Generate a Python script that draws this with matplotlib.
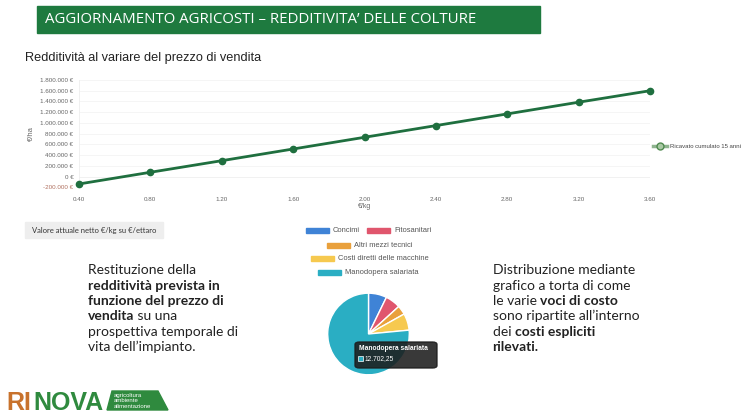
import matplotlib.pyplot as plt
from matplotlib.patches import Rectangle, FancyBboxPatch, Polygon
from matplotlib.lines import Line2D

# line chart data
prezzi = [0.40, 0.80, 1.20, 1.60, 2.00, 2.40, 2.80, 3.20, 3.60]
ricavato = [-138000, 80000, 296000, 514000, 732000, 950000, 1168000, 1386000, 1600000]
y_ticks = [-200000, 0, 200000, 400000, 600000, 800000, 1000000, 1200000, 1400000, 1600000, 1800000]

# pie data
voci = ["Concimi", "Fitosanitari", "Altri mezzi tecnici", "Costi diretti delle macchine", "Manodopera salariata"]
costi = [1200.0, 1000.0, 600.0, 1100.0, 12702.25]
colori = ["#3f83d6", "#e0566d", "#e9a03b", "#f6c94f", "#2aaec3"]

W, H = 756, 420
green = "#1f6f3f"


def fx(x):
    return x / W


def fy(y):
    return 1 - y / H


def it_num(v):
    return f"{int(v):,}".replace(",", ".") + " €"


fig = plt.figure(figsize=(7.56, 4.2), dpi=100)

# title bar
fig.patches.append(Rectangle((fx(37), fy(33)), fx(540) - fx(37), fy(6) - fy(33),
                             transform=fig.transFigure, color="#1e7a3f"))
fig.text(fx(45), fy(19.5), "AGGIORNAMENTO AGRICOSTI – REDDITIVITA’ DELLE COLTURE",
         color="white", fontsize=10.8, family="Open Sans", va="center")

fig.text(fx(25), fy(58), "Redditività al variare del prezzo di vendita",
         fontsize=9.2, family="Liberation Sans", va="center", color="#222222")

# line chart
ax = fig.add_axes([fx(79), fy(187.3), fx(650) - fx(79), fy(80) - fy(187.3)])
ax.plot(prezzi, ricavato, color=green, lw=2, marker="o", ms=4.5, zorder=3,
        label="Ricavato cumulato 15 anni", clip_on=False)
ax.set_xlim(0.4, 3.6)
ax.set_ylim(-200000, 1800000)
ax.set_yticks(y_ticks)
ax.set_yticklabels([it_num(v) for v in y_ticks])
ax.set_xticks(prezzi)
ax.set_xticklabels([f"{p:.2f}" for p in prezzi])
ax.tick_params(length=0, labelsize=4.5, labelcolor="#666666", pad=4)
ax.tick_params(axis="x", pad=7)
for lab in ax.get_yticklabels() + ax.get_xticklabels():
    lab.set_family("Liberation Sans")
ax.get_yticklabels()[0].set_color("#b0705f")
ax.grid(axis="y", color="#f4f4f4", lw=0.6)
ax.axhline(0, color="#e6e6e6", lw=0.7, zorder=1)
for s in ["top", "right", "bottom"]:
    ax.spines[s].set_visible(False)
ax.spines["left"].set_color("#eeeeee")
ax.spines["left"].set_linewidth(0.6)
ax.axhline(-200000, color="#eeeeee", lw=0.7, zorder=1)
ax.set_xlabel("€/kg", fontsize=5, color="#666666", family="Liberation Sans", labelpad=1)
ax.set_ylabel("€/ha", fontsize=5.5, color="#666666", family="Liberation Sans", labelpad=4)

handle = Line2D([], [], color="#8fb48f", lw=2.5, marker="o", ms=5,
                markerfacecolor="#a9c9a4", markeredgecolor="#4f8a4f")
leg = fig.legend([handle], ["Ricavato cumulato 15 anni"], loc="center left",
                 bbox_to_anchor=(fx(648), fy(146)), frameon=False,
                 prop={"family": "Liberation Sans", "size": 4.3},
                 handlelength=2.2, handletextpad=0.5)
for t in leg.get_texts():
    t.set_color("#444444")

# box label
fig.patches.append(Rectangle((fx(25), fy(238)), fx(163) - fx(25), fy(222) - fy(238),
                             transform=fig.transFigure, color="#eeeeee"))
fig.text(fx(31.5), fy(230), "Valore attuale netto €/kg su €/ettaro",
         fontsize=5.5, family="Lato", va="center", color="#333333")

# pie chart
cx, cy, r = 368.5, 334, 51
pax = fig.add_axes([fx(cx - r), fy(cy + r), 2 * r / W, 2 * r / H])
pax.pie(costi, colors=colori, startangle=90, counterclock=False,
        wedgeprops={"edgecolor": "white", "linewidth": 1})
pax.set_aspect("equal")

# pie legend (rows as in the reference)
rows = [[0, 1], [2], [3], [4]]
row_y = [230.7, 245, 258.7, 272.7]
row_x = [[305.7, 367], [326.7], [310.7], [318]]
for row, yy, xs in zip(rows, row_y, row_x):
    for i, x0 in zip(row, xs):
        fig.patches.append(Rectangle((fx(x0), fy(yy + 2.5)), 23 / W, 5 / H,
                                     transform=fig.transFigure, color=colori[i]))
        fig.text(fx(x0 + 27), fy(yy), voci[i], fontsize=5.4, family="Liberation Sans",
                 va="center", color="#555555")

# tooltip
fig.patches.append(FancyBboxPatch((fx(355), fy(368)), fx(437) - fx(355), fy(342) - fy(368),
                                  boxstyle="round,pad=0,rounding_size=0.006",
                                  transform=fig.transFigure, color="#1d1d1d", alpha=0.88))
fig.text(fx(359), fy(348.5), voci[4], fontsize=4.8, family="Liberation Sans",
         weight="bold", color="white", va="center")
fig.patches.append(Rectangle((fx(358), fy(361)), 5 / W, 5 / H, transform=fig.transFigure,
                             facecolor=colori[4], edgecolor="white", lw=0.5))
fig.text(fx(365), fy(358.5), f"{costi[4]:,.2f}".replace(",", "X").replace(".", ",").replace("X", "."),
         fontsize=4.8, family="Liberation Sans", color="white", va="center")


def chain(x, y0, step, lines, size):
    # each line is a list of (text, bold) fragments placed one after another
    for k, frags in enumerate(lines):
        prev = None
        for txt, bold in frags:
            kw = dict(fontsize=size, family="Lato", color="#222222",
                      weight="bold" if bold else "normal")
            if prev is None:
                prev = fig.text(fx(x), fy(y0 + k * step), txt, va="baseline", **kw)
            else:
                prev = ax.annotate(txt, xy=(1, 0), xycoords=prev, va="bottom",
                                   ha="left", annotation_clip=False, **kw)


left_txt = [
    [("Restituzione della", False)],
    [("redditività prevista in", True)],
    [("funzione del prezzo di", True)],
    [("vendita", True), (" su una", False)],
    [("prospettiva temporale di", False)],
    [("vita dell’impianto.", False)],
]
right_txt = [
    [("Distribuzione mediante", False)],
    [("grafico a torta di come", False)],
    [("le varie ", False), ("voci di costo", True)],
    [("sono ripartite all’interno", False)],
    [("dei ", False), ("costi espliciti", True)],
    [("rilevati.", True)],
]
chain(88, 274.5, 15.3, left_txt, 10)
chain(492.5, 274.5, 15.3, right_txt, 10)

# logo
fig.text(fx(6), fy(410), "RI", fontsize=18, weight="bold", family="Liberation Sans",
         color="#c8722c", va="baseline")
fig.text(fx(33), fy(410), "NOVA", fontsize=18, weight="bold", family="Liberation Sans",
         color="#2f8a3e", va="baseline")
fig.patches.append(Polygon([(fx(107), fy(410)), (fx(112), fy(391)), (fx(158), fy(391)), (fx(168), fy(410))],
                           closed=True, transform=fig.transFigure, color="#2f8a3e"))
for j, w in enumerate(["agricoltura", "ambiente", "alimentazione"]):
    fig.text(fx(114), fy(395.5 + j * 5.5), w, fontsize=4.3, color="white",
             family="Liberation Sans", va="center")

fig.savefig("out.png", dpi=100, facecolor="white")
